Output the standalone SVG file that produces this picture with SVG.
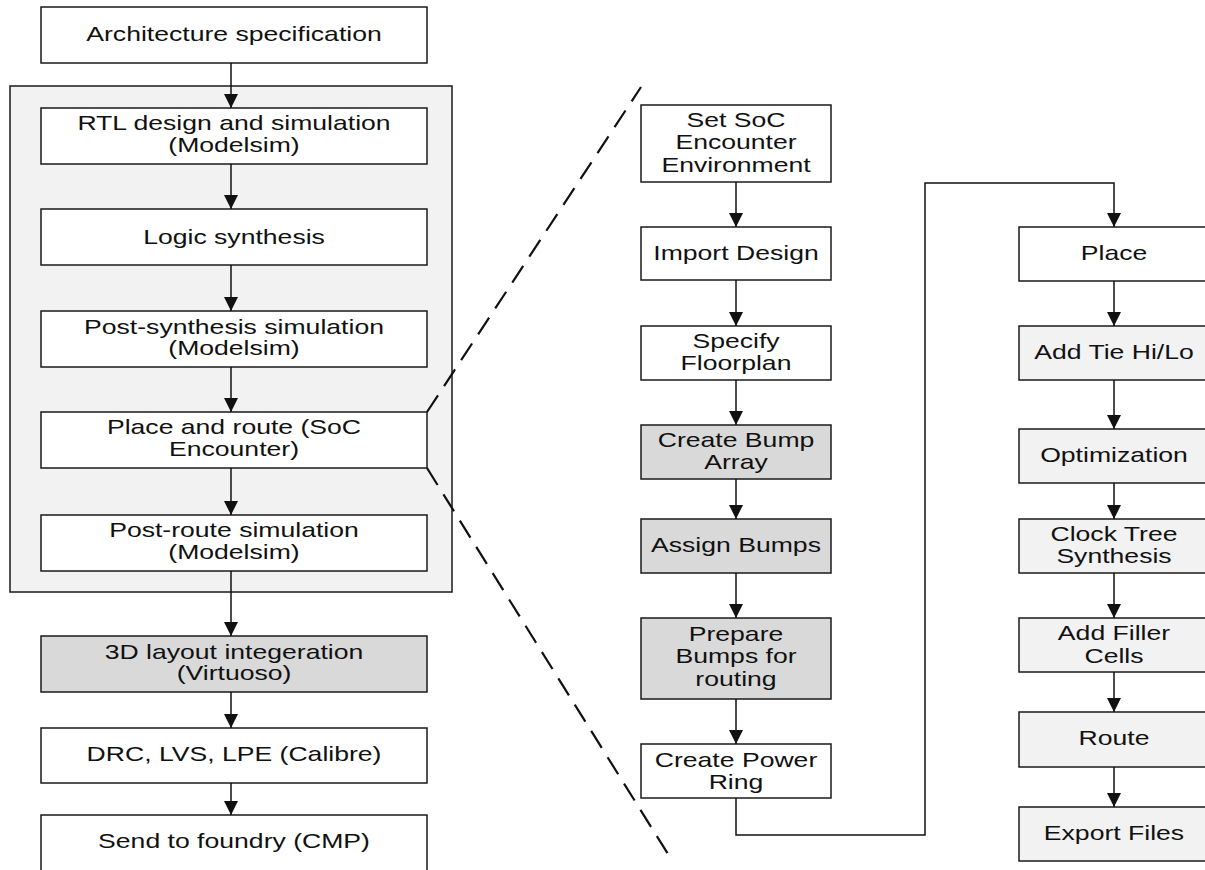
<svg xmlns="http://www.w3.org/2000/svg" width="1205" height="870" viewBox="0 0 1205 870">
<style>
.box{stroke:#1a1a1a;stroke-width:1.5;fill:#ffffff}
.lg{fill:#f2f2f2}
.dg{fill:#d9d9d9}
.t{font-family:"Liberation Sans",Arial,sans-serif;font-size:20px;fill:#111;text-anchor:middle}
.c{stroke:#111;stroke-width:1.5;fill:none}
.d{stroke:#111;stroke-width:2.2;fill:none;stroke-dasharray:20 11}
</style>
<defs>
<marker id="ah" markerUnits="userSpaceOnUse" markerWidth="14" markerHeight="14" refX="14" refY="7" orient="auto">
<path d="M0,0 L14,7 L0,14 z" fill="#111"/>
</marker>
</defs>
<rect width="1205" height="870" fill="#ffffff"/>
<g id="container"><rect class="box lg" x="10" y="86" width="442" height="506"/></g>

<g id="arch"><rect class="box" x="41" y="7" width="386" height="56"/><text class="t" transform="translate(234,41) scale(1.33,1)">Architecture specification</text></g>
<g id="rtl"><rect class="box" x="41" y="108" width="386" height="56"/><text class="t" transform="translate(234,130) scale(1.33,1)"><tspan x="0" y="0">RTL design and simulation</tspan><tspan x="0" y="22.5">(Modelsim)</tspan></text></g>
<g id="logic"><rect class="box" x="41" y="209" width="386" height="56"/><text class="t" transform="translate(234,243.5) scale(1.33,1)">Logic synthesis</text></g>
<g id="postsyn"><rect class="box" x="41" y="311" width="386" height="56"/><text class="t" transform="translate(234,333.5) scale(1.33,1)"><tspan x="0" y="0">Post-synthesis simulation</tspan><tspan x="0" y="22">(Modelsim)</tspan></text></g>
<g id="pnr"><rect class="box" x="41" y="412" width="386" height="56"/><text class="t" transform="translate(234,434) scale(1.33,1)"><tspan x="0" y="0">Place and route (SoC</tspan><tspan x="0" y="22.5">Encounter)</tspan></text></g>
<g id="postroute"><rect class="box" x="41" y="515" width="386" height="56"/><text class="t" transform="translate(234,537) scale(1.33,1)"><tspan x="0" y="0">Post-route simulation</tspan><tspan x="0" y="22">(Modelsim)</tspan></text></g>
<g id="layout3d"><rect class="box dg" x="41" y="636" width="386" height="56"/><text class="t" transform="translate(234,658.5) scale(1.33,1)"><tspan x="0" y="0">3D layout integeration</tspan><tspan x="0" y="22">(Virtuoso)</tspan></text></g>
<g id="drc"><rect class="box" x="41" y="728" width="386" height="55"/><text class="t" transform="translate(234,761) scale(1.33,1)">DRC, LVS, LPE (Calibre)</text></g>
<g id="foundry"><rect class="box" x="41" y="815" width="386" height="60"/><text class="t" transform="translate(234,848) scale(1.33,1)">Send to foundry (CMP)</text></g>

<g id="setsoc"><rect class="box" x="641" y="105" width="190" height="77"/><text class="t" transform="translate(736,126.7) scale(1.33,1)"><tspan x="0" y="0">Set SoC</tspan><tspan x="0" y="22.6">Encounter</tspan><tspan x="0" y="45">Environment</tspan></text></g>
<g id="import"><rect class="box" x="641" y="227" width="190" height="53"/><text class="t" transform="translate(736,259.5) scale(1.33,1)">Import Design</text></g>
<g id="floorplan"><rect class="box" x="641" y="326" width="190" height="54"/><text class="t" transform="translate(736,348.3) scale(1.33,1)"><tspan x="0" y="0">Specify</tspan><tspan x="0" y="22.2">Floorplan</tspan></text></g>
<g id="bumparray"><rect class="box dg" x="641" y="425" width="190" height="54"/><text class="t" transform="translate(736,446.7) scale(1.33,1)"><tspan x="0" y="0">Create Bump</tspan><tspan x="0" y="22.8">Array</tspan></text></g>
<g id="assign"><rect class="box dg" x="641" y="519" width="190" height="54"/><text class="t" transform="translate(736,551.5) scale(1.33,1)">Assign Bumps</text></g>
<g id="prepare"><rect class="box dg" x="641" y="618" width="190" height="81"/><text class="t" transform="translate(736,640.7) scale(1.33,1)"><tspan x="0" y="0">Prepare</tspan><tspan x="0" y="22.6">Bumps for</tspan><tspan x="0" y="45.3">routing</tspan></text></g>
<g id="powerring"><rect class="box" x="641" y="744" width="190" height="54"/><text class="t" transform="translate(736,766.7) scale(1.33,1)"><tspan x="0" y="0">Create Power</tspan><tspan x="0" y="22.6">Ring</tspan></text></g>

<g id="place"><rect class="box" x="1019" y="227" width="190" height="54"/><text class="t" transform="translate(1114,260) scale(1.33,1)">Place</text></g>
<g id="tie"><rect class="box lg" x="1019" y="326" width="190" height="54"/><text class="t" transform="translate(1114,359) scale(1.33,1)">Add Tie Hi/Lo</text></g>
<g id="opt"><rect class="box lg" x="1019" y="429" width="190" height="54"/><text class="t" transform="translate(1114,461.5) scale(1.33,1)">Optimization</text></g>
<g id="cts"><rect class="box lg" x="1019" y="519" width="190" height="54"/><text class="t" transform="translate(1114,540.7) scale(1.33,1)"><tspan x="0" y="0">Clock Tree</tspan><tspan x="0" y="22.6">Synthesis</tspan></text></g>
<g id="filler"><rect class="box lg" x="1019" y="618" width="190" height="54"/><text class="t" transform="translate(1114,640) scale(1.33,1)"><tspan x="0" y="0">Add Filler</tspan><tspan x="0" y="22.7">Cells</tspan></text></g>
<g id="route"><rect class="box lg" x="1019" y="712" width="190" height="55"/><text class="t" transform="translate(1114,745) scale(1.33,1)">Route</text></g>
<g id="export"><rect class="box lg" x="1019" y="807" width="190" height="54"/><text class="t" transform="translate(1114,840) scale(1.33,1)">Export Files</text></g>

<g id="connectors">
<line class="c" x1="231" y1="63" x2="231" y2="108" marker-end="url(#ah)"/>
<line class="c" x1="231" y1="164" x2="231" y2="209" marker-end="url(#ah)"/>
<line class="c" x1="231" y1="265" x2="231" y2="311" marker-end="url(#ah)"/>
<line class="c" x1="231" y1="367" x2="231" y2="412" marker-end="url(#ah)"/>
<line class="c" x1="231" y1="468" x2="231" y2="515" marker-end="url(#ah)"/>
<line class="c" x1="231" y1="571" x2="231" y2="636" marker-end="url(#ah)"/>
<line class="c" x1="231" y1="692" x2="231" y2="728" marker-end="url(#ah)"/>
<line class="c" x1="231" y1="783" x2="231" y2="815" marker-end="url(#ah)"/>

<line class="c" x1="736" y1="182" x2="736" y2="227" marker-end="url(#ah)"/>
<line class="c" x1="736" y1="280" x2="736" y2="326" marker-end="url(#ah)"/>
<line class="c" x1="736" y1="380" x2="736" y2="425" marker-end="url(#ah)"/>
<line class="c" x1="736" y1="479" x2="736" y2="519" marker-end="url(#ah)"/>
<line class="c" x1="736" y1="573" x2="736" y2="618" marker-end="url(#ah)"/>
<line class="c" x1="736" y1="699" x2="736" y2="744" marker-end="url(#ah)"/>
<polyline class="c" points="736,798 736,835 925,835 925,183 1114,183 1114,227" marker-end="url(#ah)"/>

<line class="c" x1="1114" y1="281" x2="1114" y2="326" marker-end="url(#ah)"/>
<line class="c" x1="1114" y1="380" x2="1114" y2="429" marker-end="url(#ah)"/>
<line class="c" x1="1114" y1="483" x2="1114" y2="519" marker-end="url(#ah)"/>
<line class="c" x1="1114" y1="573" x2="1114" y2="618" marker-end="url(#ah)"/>
<line class="c" x1="1114" y1="672" x2="1114" y2="712" marker-end="url(#ah)"/>
<line class="c" x1="1114" y1="767" x2="1114" y2="807" marker-end="url(#ah)"/>

<line class="d" x1="427" y1="412" x2="641" y2="87"/>
<line class="d" x1="427" y1="468" x2="673" y2="862"/>
</g>
</svg>
